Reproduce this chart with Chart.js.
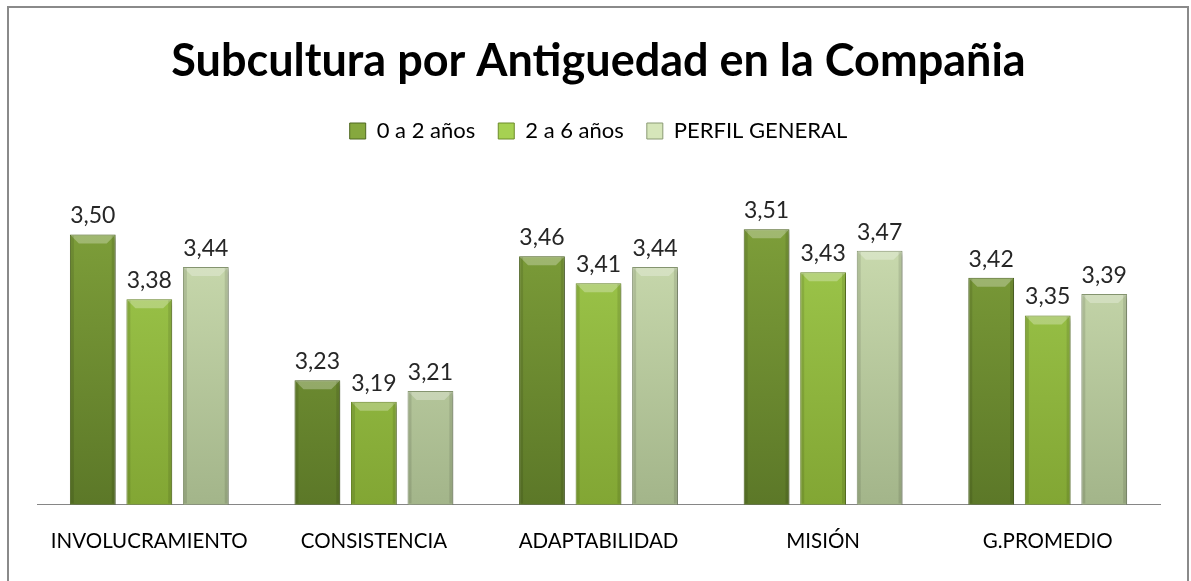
<!DOCTYPE html>
<html lang="es">
<head>
  <meta charset="utf-8">
  <title>Subcultura por Antiguedad en la Compañia</title>
  <script src="https://cdn.jsdelivr.net/npm/chart.js@4.4.1/dist/chart.umd.min.js"></script>
  <style>
    html, body { margin: 0; padding: 0; background: #fff; }
    #wrap { width: 1191px; height: 581px; }
  </style>
</head>
<body>
<div id="wrap"><canvas id="grafico" width="1191" height="581"></canvas></div>
<script>
// datos
var categorias = ['INVOLUCRAMIENTO', 'CONSISTENCIA', 'ADAPTABILIDAD', 'MISIÓN', 'G.PROMEDIO'];
var anios0a2 = [3.50, 3.23, 3.46, 3.51, 3.42];
var anios2a6 = [3.38, 3.19, 3.41, 3.43, 3.35];
var perfilGeneral = [3.44, 3.21, 3.44, 3.47, 3.39];
var nombresSeries = ['0 a 2 años', '2 a 6 años', 'PERFIL GENERAL'];

// colores de cada serie: arriba, abajo, borde
var colores = [
  ['#86a83e', '#5c7828', '#4f6820'],
  ['#a6d152', '#82a634', '#6d8c2a'],
  ['#d6e6ba', '#a3b58a', '#8a9a74']
];

function degradado(i) {
  return function (ctx) {
    var chart = ctx.chart;
    var area = chart.chartArea;
    if (!area) return colores[i][0];
    var g = chart.ctx.createLinearGradient(0, area.top, 0, area.bottom);
    g.addColorStop(0, colores[i][0]);
    g.addColorStop(1, colores[i][1]);
    return g;
  };
}

// marco gris alrededor
var marco = {
  id: 'marco',
  beforeDraw: function (chart) {
    var c = chart.ctx;
    c.save();
    c.strokeStyle = '#8a8a8a';
    c.lineWidth = 2;
    c.strokeRect(8, 7, 1180, 600);
    c.restore();
  }
};

// sombra de las barras
var sombra = {
  id: 'sombra',
  beforeDatasetsDraw: function (chart) {
    var c = chart.ctx;
    c.save();
    c.shadowColor = 'rgba(0,0,0,0.35)';
    c.shadowBlur = 5;
    c.shadowOffsetX = 2;
    c.shadowOffsetY = 2;
  },
  afterDatasetsDraw: function (chart) {
    chart.ctx.restore();
  }
};

// bisel arriba de cada barra y etiquetas de valor
var etiquetas = {
  id: 'etiquetas',
  afterDatasetsDraw: function (chart) {
    var c = chart.ctx;
    var fondo = chart.chartArea.bottom;
    c.save();
    chart.data.datasets.forEach(function (ds, i) {
      var meta = chart.getDatasetMeta(i);
      meta.data.forEach(function (bar, j) {
        var w = bar.width, x0 = bar.x - w / 2, x1 = bar.x + w / 2, y = bar.y;
        var alto = Math.min(bar.base, fondo) - y - 2;
        c.fillStyle = 'rgba(255,255,255,0.28)';
        c.beginPath();
        c.moveTo(x0 + 1, y + 1);
        c.lineTo(x1 - 1, y + 1);
        c.lineTo(x1 - 9, y + 9);
        c.lineTo(x0 + 9, y + 9);
        c.closePath();
        c.fill();
        c.fillStyle = 'rgba(0,0,0,0.10)';
        c.fillRect(x0 + 1, y + 1, 3, alto);
        c.fillRect(x1 - 4, y + 1, 3, alto);

        c.fillStyle = '#262626';
        c.font = '23px Lato, "Open Sans", sans-serif';
        c.textAlign = 'center';
        c.textBaseline = 'bottom';
        c.fillText(ds.data[j].toFixed(2).replace('.', ','), bar.x, y - 7);
      });
    });
    c.restore();
  }
};

var datasets = [anios0a2, anios2a6, perfilGeneral].map(function (serie, i) {
  return {
    label: nombresSeries[i],
    data: serie,
    backgroundColor: degradado(i),
    borderColor: colores[i][2],
    borderWidth: 1,
    borderSkipped: false,
    barPercentage: 0.81,
    categoryPercentage: 0.755
  };
});

new Chart(document.getElementById('grafico'), {
  type: 'bar',
  data: { labels: categorias, datasets: datasets },
  plugins: [marco, sombra, etiquetas],
  options: {
    responsive: false,
    animation: false,
    layout: { padding: { left: 37, right: 31, top: 0, bottom: 10 } },
    plugins: {
      title: {
        display: true,
        text: 'Subcultura por Antiguedad en la Compañia',
        color: '#000',
        font: { family: 'Lato', size: 45, weight: 'bold' },
        padding: { top: 34, bottom: 9 }
      },
      legend: {
        position: 'top',
        labels: {
          color: '#262626',
          font: { family: 'Lato', size: 22 },
          boxWidth: 16,
          boxHeight: 16,
          padding: 23,
          generateLabels: function (chart) {
            return nombresSeries.map(function (n, i) {
              return {
                text: n,
                fillStyle: colores[i][0],
                strokeStyle: colores[i][2],
                lineWidth: 1,
                datasetIndex: i
              };
            });
          }
        }
      },
      tooltip: { enabled: false }
    },
    scales: {
      x: {
        grid: { display: false },
        border: { display: true, color: '#868686', width: 1 },
        ticks: {
          color: '#000',
          font: { family: 'Lato', size: 20.5 },
          padding: 17,
          maxRotation: 0,
          autoSkip: false
        }
      },
      y: {
        display: false,
        min: 3,
        max: 3.653
      }
    }
  }
});
</script>
</body>
</html>
